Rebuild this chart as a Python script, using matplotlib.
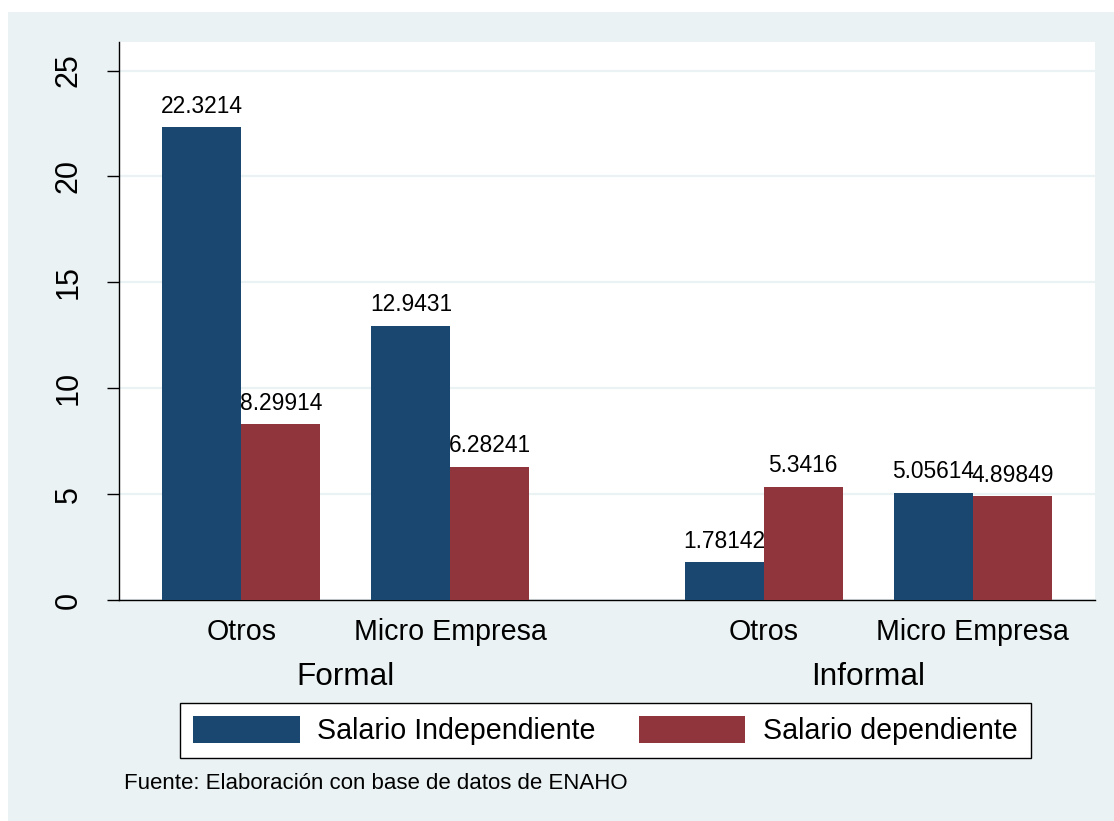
import matplotlib
matplotlib.use("Agg")
import matplotlib.pyplot as plt
from matplotlib.patches import Rectangle

plt.rcParams['font.family'] = ['Liberation Sans', 'DejaVu Sans']

# datos
grupos = ["Formal", "Informal"]
categorias = ["Otros", "Micro Empresa"]
series = ["Salario Independiente", "Salario dependiente"]
independiente = [22.3214, 12.9431, 1.78142, 5.05614]
dependiente = [8.29914, 6.28241, 5.3416, 4.89849]
etiquetas = ["22.3214", "12.9431", "1.78142", "5.05614"]
etiquetas_dep = ["8.29914", "6.28241", "5.3416", "4.89849"]
nota = "Fuente: Elaboración con base de datos de ENAHO"

azul = "#1a476f"
rojo = "#90353b"
fondo = "#eaf2f3"

fig = plt.figure(figsize=(11.14, 8.21), dpi=100)
fig.patch.set_facecolor("white")
fig.patches.append(Rectangle((8 / 1114, 0), 1 - 8 / 1114, 1 - 12 / 821,
                             transform=fig.transFigure, facecolor=fondo,
                             edgecolor="none", zorder=-10))

ax = fig.add_axes([119 / 1114, 1 - 600 / 821, (1095 - 119) / 1114, 558 / 821])
ax.set_facecolor("white")

# posiciones: separacion dentro del grupo y entre grupos
dentro, entre = 2.645, 3.96
pos = []
for g in range(len(grupos)):
    for c in range(len(categorias)):
        pos.append(g * (dentro + entre) + c * dentro)

w = 1.0
b1 = ax.bar([p - w / 2 for p in pos], independiente, width=w, color=azul, zorder=3)
b2 = ax.bar([p + w / 2 for p in pos], dependiente, width=w, color=rojo, zorder=3)

for p, v, t in zip(pos, independiente, etiquetas):
    ax.text(p - w / 2, v + 0.45, t, ha="center", va="bottom", fontsize=16.4, zorder=4)
for p, v, t in zip(pos, dependiente, etiquetas_dep):
    ax.text(p + w / 2, v + 0.45, t, ha="center", va="bottom", fontsize=16.4, zorder=4)

ax.set_xlim(-1.544, pos[-1] + 1.544)
ax.set_ylim(0, 26.35)
ax.set_yticks([0, 5, 10, 15, 20, 25])
ax.set_yticklabels(["0", "5", "10", "15", "20", "25"], rotation=90, va="center")
ax.tick_params(axis="y", length=8.5, width=1, labelsize=22, pad=17)
ax.set_xticks(pos)
ax.set_xticklabels(categorias * len(grupos))
ax.tick_params(axis="x", length=0, labelsize=20.6, pad=13)

ax.grid(axis="y", color=fondo, linewidth=1.6, zorder=0)
ax.set_axisbelow(True)
for s in ["top", "right"]:
    ax.spines[s].set_visible(False)
ax.spines["left"].set_linewidth(1)
ax.spines["bottom"].set_linewidth(1)

for g, nombre in enumerate(grupos):
    xc = (pos[g * 2] + pos[g * 2 + 1]) / 2
    ax.text(xc, -0.1384, nombre, transform=ax.get_xaxis_transform(),
            ha="center", va="center", fontsize=22.7)

leg = fig.legend([b1, b2], series, loc="center",
                 bbox_to_anchor=(605.5 / 1114, 1 - 730.5 / 821), ncol=2,
                 fontsize=20.6, frameon=True, fancybox=False, framealpha=1,
                 edgecolor="black", handlelength=3.72, handleheight=1.05,
                 handletextpad=0.62, columnspacing=1.5, borderpad=0.45,
                 borderaxespad=0)
leg.get_frame().set_linewidth(1)

fig.text(124 / 1114, 1 - 783 / 821, nota, fontsize=16, va="center", ha="left")

fig.savefig("out.png", dpi=100)
